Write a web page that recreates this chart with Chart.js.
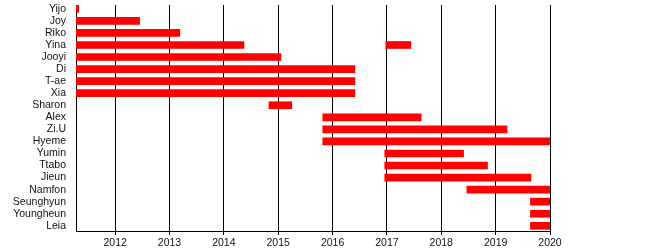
<!DOCTYPE html>
<html>
<head>
<meta charset="utf-8">
<script src="https://cdn.jsdelivr.net/npm/chart.js@4/dist/chart.umd.min.js"></script>
<style>
  html, body { margin: 0; padding: 0; background: #fff; }
  #wrap { width: 650px; height: 250px; }
</style>
</head>
<body>
<div id="wrap"><canvas id="timeline"></canvas></div>
<script>
// Members and when they were active (years, fractional)
var names = ["Yijo", "Joy", "Riko", "Yina", "Jooyi", "Di", "T-ae", "Xia", "Sharon", "Alex",
  "Zi.U", "Hyeme", "Yumin", "Ttabo", "Jieun", "Namfon", "Seunghyun", "Youngheun", "Leia"];
var startYears = [2011.27, 2011.27, 2011.27, 2011.27, 2011.27, 2011.27, 2011.27, 2011.27, 2014.83, 2015.82,
  2015.82, 2015.82, 2016.96, 2016.96, 2016.96, 2018.47, 2019.64, 2019.64, 2019.64];
var endYears = [2011.33, 2012.45, 2013.19, 2014.37, 2015.05, 2016.41, 2016.41, 2016.41, 2015.25, 2017.63,
  2019.21, 2020.0, 2018.41, 2018.85, 2019.65, 2020.0, 2020.0, 2020.0, 2020.0];
// second stint (only Yina)
var returnName = "Yina";
var returnStart = 2016.98;
var returnEnd = 2017.44;
var yearTicks = [2012, 2013, 2014, 2015, 2016, 2017, 2018, 2019, 2020];

var rows = names.map(function (n, i) { return { x: [startYears[i], endYears[i]], y: i }; });
var extra = [{ x: [returnStart, returnEnd], y: names.indexOf(returnName) }];

Chart.defaults.font.family = "'Liberation Sans', Arial, sans-serif";
Chart.defaults.font.size = 10.5;
Chart.defaults.color = "#111";

new Chart(document.getElementById("timeline"), {
  type: "bar",
  data: {
    datasets: [
      { data: rows, backgroundColor: "#ff0000", barThickness: 7, grouped: false },
      { data: extra, backgroundColor: "#ff0000", barThickness: 7, grouped: false },
    ],
  },
  options: {
    indexAxis: "y",
    animation: false,
    responsive: true,
    maintainAspectRatio: false,
    layout: { padding: { top: 5, right: 100, left: 0, bottom: 0 } },
    plugins: { legend: { display: false }, tooltip: { enabled: false } },
    scales: {
      x: {
        type: "linear",
        min: 2011.28,
        max: yearTicks[yearTicks.length - 1],
        afterFit: function (axis) { axis.height = 19; },
        grid: { color: "#000", lineWidth: 1, tickLength: 4 },
        border: { display: true, color: "#000" },
        ticks: {
          stepSize: 1,
          includeBounds: false,
          padding: 2,
          maxRotation: 0,
          autoSkip: false,
          callback: function (v) { return yearTicks.indexOf(v) >= 0 ? String(v) : ""; },
        },
      },
      y: {
        type: "linear",
        reverse: true,
        offset: false,
        min: -0.315,
        max: 18.43,
        afterFit: function (axis) {
          axis.width = 76;
          axis.paddingTop = 0;
          axis.paddingBottom = 0;
        },
        grid: { display: false, drawTicks: false, offset: false },
        border: { display: true, color: "#000" },
        ticks: {
          stepSize: 1,
          includeBounds: false,
          autoSkip: false,
          maxTicksLimit: 40,
          padding: 10,
          callback: function (v) { return names[v] !== undefined ? names[v] : ""; },
        },
      },
    },
  },
});
</script>
</body>
</html>
